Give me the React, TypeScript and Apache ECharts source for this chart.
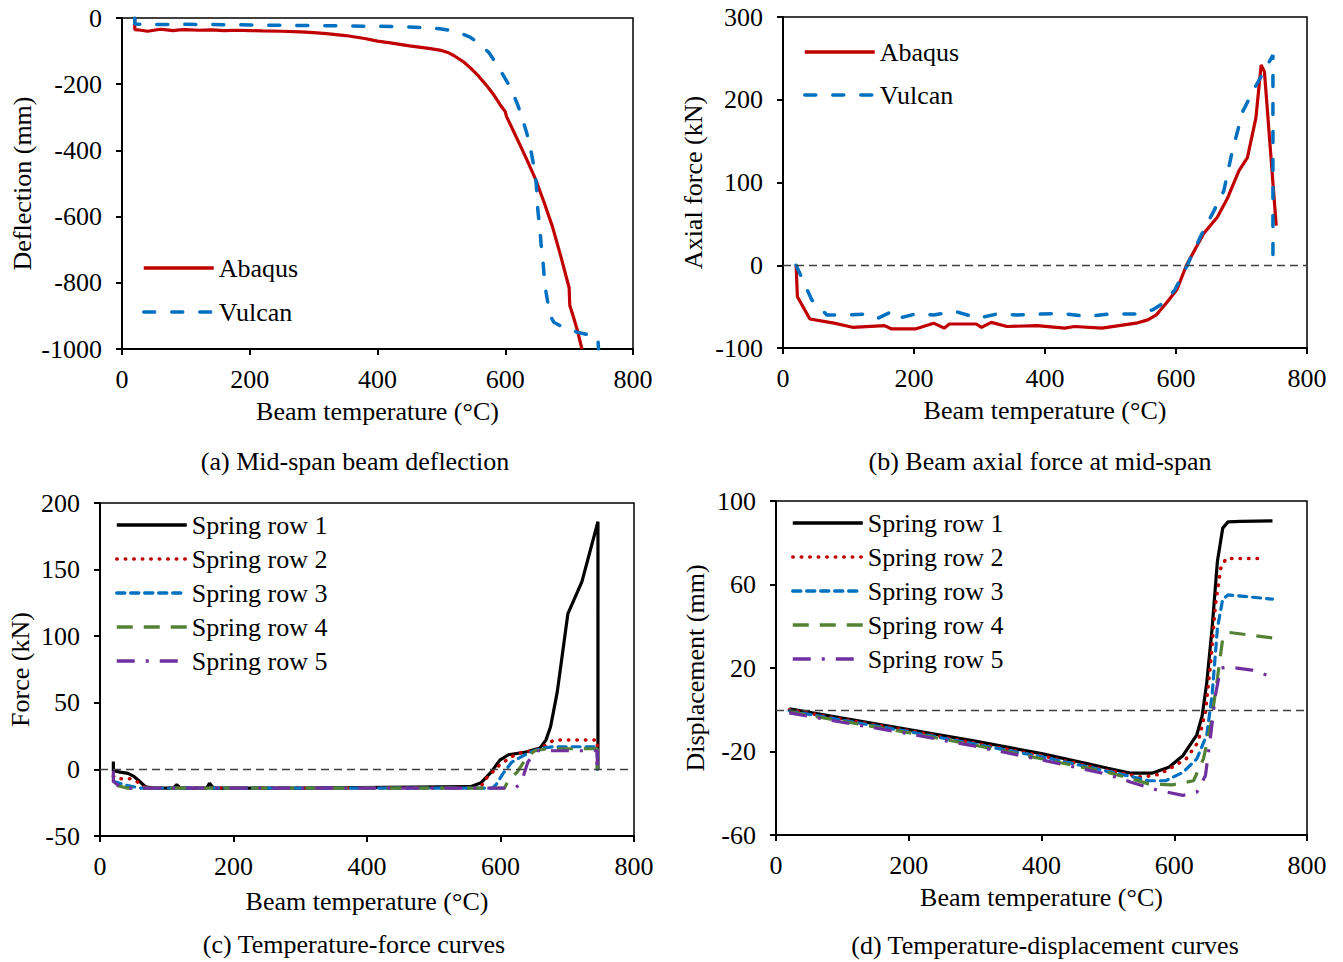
import React, { useEffect, useRef } from "react";
import * as echarts from "echarts";

const FONT = '"Liberation Serif", "Times New Roman", serif';

// Temperature axis (°C)
const tempMin = 0;
const tempMax = 800;
const tempStep = 200;

// (a) Mid-span beam deflection (mm)
const deflAbaqus = [
  [20, 0], [20, -35], [30, -37], [40, -40], [50, -37], [60, -34], [70, -36], [80, -38], [90, -36], [100, -35],
  [120, -37], [140, -36], [160, -38], [180, -37], [200, -38], [220, -39], [250, -40], [280, -42], [300, -44],
  [320, -47], [350, -53], [380, -62], [400, -70], [420, -75], [450, -84], [480, -92], [500, -98], [510, -104],
  [520, -114], [535, -133], [545, -150], [558, -175], [570, -202], [582, -232], [592, -262], [600, -283],
  [602, -298], [610, -330], [622, -379], [635, -433], [648, -490], [661, -558], [674, -631], [687, -720],
  [700, -815], [701, -868], [707, -905], [713, -944], [720, -1000],
];
const deflVulcan = [
  [20, 0], [20, -18], [40, -20], [100, -19], [200, -21], [300, -23], [400, -25], [450, -27], [480, -30],
  [500, -33], [515, -38], [530, -46], [545, -58], [555, -71], [565, -87], [575, -106], [585, -135], [595, -167],
  [605, -200], [612, -227], [620, -265], [627, -305], [634, -350], [640, -399], [645, -450], [648, -490],
  [650, -540], [651, -581], [654, -632], [656, -682], [659, -733], [661, -783], [664, -830], [668, -874],
  [672, -905], [676, -919], [690, -934], [712, -949], [730, -957], [745, -965], [746, -1000],
];

// (b) Beam axial force at mid-span (kN)
const axialAbaqus = [
  [20, 0], [22, -38], [41, -65], [78, -70], [106, -75], [155, -73], [166, -77], [202, -77], [230, -70],
  [246, -76], [254, -71], [295, -71], [303, -75], [318, -69], [342, -74], [388, -73], [430, -76], [445, -74],
  [487, -76], [513, -73], [539, -70], [557, -66], [570, -60], [585, -46], [601, -30], [616, 0], [642, 38],
  [663, 58], [678, 80], [696, 114], [709, 130], [722, 178], [730, 242], [735, 234], [753, 48],
];
const axialVulcan = [
  [20, 0], [44, -42], [67, -60], [98, -60], [129, -59], [145, -64], [166, -56], [176, -64], [202, -59],
  [230, -60], [264, -56], [298, -64], [326, -59], [357, -60], [394, -59], [425, -58], [463, -62], [497, -59],
  [544, -59], [564, -54], [580, -46], [598, -30], [616, -2], [637, 34], [658, 66], [673, 90], [686, 138],
  [702, 186], [720, 214], [748, 254], [748, 6],
];

// (c) Temperature-force curves (kN)
const force1 = [
  [20, 6], [20, -1], [30, -2], [42, -3], [50, -5], [57, -8], [68, -13], [80, -14], [110, -14], [115, -11.5],
  [120, -14], [160, -14], [164, -10.5], [170, -14], [300, -14], [555, -13], [571, -10], [586, -2], [599, 7],
  [612, 11], [638, 13], [659, 16], [668, 22], [675, 32], [685, 58], [701, 117], [722, 141], [746, 186], [746, 0],
];
const force2 = [
  [20, -5], [25, -7], [45, -7], [55, -9], [65, -13], [80, -14], [300, -14], [570, -14], [576, -8], [586, -3],
  [599, 3.5], [612, 8], [625, 12], [643, 13.5], [659, 15.5], [670, 19], [680, 22], [745, 22], [745, 0],
];
const force3 = [
  [20, -9], [40, -12], [60, -14], [300, -14], [588, -14], [594, -11], [604, -3], [617, 5.5], [633, 10],
  [645, 13], [662, 16], [680, 17], [745, 17], [745, 0],
];
const force4 = [
  [25, -12], [40, -14], [300, -14], [606, -14], [612, -8], [625, -2], [638, 8], [651, 14], [670, 15.5],
  [745, 15.5], [745, 0],
];
const force5 = [
  [20, -1], [20, -9], [32, -14], [300, -14], [622, -14], [627, -12], [633, -7], [641, 5.5], [654, 14],
  [745, 14], [745, 0],
];

// (d) Temperature-displacement curves (mm)
const disp1 = [
  [20, 0.5], [100, -4], [200, -9.5], [300, -15], [400, -21], [500, -28], [535, -30.4], [566, -30.4],
  [592, -27.5], [613, -22], [634, -12], [642, -3], [649, 13], [657, 39], [665, 71], [673, 87], [681, 90],
  [700, 90.2], [748, 90.5],
];
const disp2 = [
  [20, 0], [100, -4.5], [200, -10], [300, -16], [400, -22], [500, -29], [551, -32.3], [577, -31],
  [597, -27.5], [618, -23.5], [636, -15.5], [647, -1], [655, 23], [662, 50], [670, 67.7], [678, 72.5],
  [735, 72.5],
];
const disp3 = [
  [20, -0.5], [100, -5], [200, -10.5], [300, -16.5], [400, -22.5], [500, -29.5], [535, -32], [561, -34],
  [587, -34], [613, -30], [634, -23.5], [649, -12], [657, 7], [665, 39], [673, 53], [681, 55], [748, 53],
];
const disp4 = [
  [20, -1], [100, -5.5], [200, -11], [300, -17], [400, -23.5], [500, -30], [535, -33], [561, -35.5],
  [597, -36], [629, -34], [644, -23.5], [655, -7.5], [665, 15], [673, 34], [683, 37], [748, 34.4],
];
const disp5 = [
  [20, -1.5], [100, -6], [200, -11.5], [300, -17.5], [400, -24], [500, -31], [535, -34.7], [577, -38.7],
  [613, -41], [634, -39.5], [647, -31.5], [655, -12], [662, 7], [670, 20], [683, 20.5], [717, 19], [748, 15.7],
];

const RED = "#C00000";
const BLUE = "#0070C0";
const GREEN = "#548235";
const PURPLE = "#7030A0";
const BLACK = "#000000";

const textBase = { fontFamily: FONT, fontSize: 26, color: "#000" };

function xAxis(gridIndex: number, nameGap: number) {
  return {
    type: "value",
    gridIndex,
    min: tempMin,
    max: tempMax,
    interval: tempStep,
    name: "Beam temperature (°C)",
    nameLocation: "middle",
    nameGap,
    nameTextStyle: textBase,
    axisLine: { show: true, onZero: false, lineStyle: { color: "#000", width: 2 } },
    axisTick: { show: true, inside: false, length: 6, lineStyle: { color: "#000", width: 2 } },
    axisLabel: { ...textBase, margin: 17, formatter: (v: number) => String(v) },
    splitLine: { show: false },
  };
}

function yAxis(gridIndex: number, name: string, min: number, max: number, interval: number, nameGap: number) {
  return {
    type: "value",
    gridIndex,
    min,
    max,
    interval,
    name,
    nameLocation: "middle",
    nameRotate: 90,
    nameGap,
    nameTextStyle: textBase,
    axisLine: { show: true, onZero: false, lineStyle: { color: "#000", width: 2 } },
    axisTick: { show: true, inside: false, length: 6, lineStyle: { color: "#000", width: 2 } },
    axisLabel: { ...textBase, margin: 20, formatter: (v: number) => String(v) },
    splitLine: { show: false },
  };
}

function line(name: string, data: number[][], idx: number, color: string, type: any, width = 3.2, cap = "butt") {
  return {
    name,
    type: "line",
    xAxisIndex: idx,
    yAxisIndex: idx,
    data,
    symbol: "none",
    showSymbol: false,
    silent: true,
    lineStyle: { color, width, type, cap },
    itemStyle: { color },
  };
}

const zeroLine = {
  silent: true,
  symbol: ["none", "none"],
  label: { show: false },
  lineStyle: { color: "#404040", width: 1.3, type: [8, 5] },
  data: [{ yAxis: 0 }],
};

function legend(left: number, top: number, names: string[], gap: number) {
  return {
    left,
    top,
    orient: "vertical",
    padding: 0,
    itemWidth: 70,
    itemHeight: 14,
    itemGap: gap,
    data: names,
    selectedMode: false,
    itemStyle: { opacity: 0 },
    lineStyle: { width: 3.5 },
    textStyle: { ...textBase, lineHeight: 26 },
  };
}

const springNames = ["Spring row 1", "Spring row 2", "Spring row 3", "Spring row 4", "Spring row 5"];

export default function App() {
  const ref = useRef<HTMLDivElement>(null);
  useEffect(() => {
    document.body.style.margin = "0";
    const chart = echarts.init(ref.current!, null, { renderer: "svg" });
    const gridStyle = { show: true, borderColor: "#000", borderWidth: 1.5, backgroundColor: "transparent" };
    const option: any = {
      animation: false,
      backgroundColor: "#fff",
      grid: [
        { left: 122, top: 18, width: 511, height: 331, ...gridStyle },
        { left: 783, top: 17, width: 524, height: 331, ...gridStyle },
        { left: 100, top: 503, width: 534, height: 333, ...gridStyle },
        { left: 776, top: 501, width: 531, height: 334, ...gridStyle },
      ],
      xAxis: [xAxis(0, 49), xAxis(1, 49), xAxis(2, 52), xAxis(3, 49)],
      yAxis: [
        yAxis(0, "Deflection (mm)", -1000, 0, 200, 87),
        yAxis(1, "Axial force (kN)", -100, 300, 100, 77),
        yAxis(2, "Force (kN)", -50, 200, 50, 67),
        yAxis(3, "Displacement (mm)", -60, 100, 40, 68),
      ],
      legend: [
        legend(142, 255, ["Abaqus", "Vulcan"], 18),
        legend(803, 39, ["Abaqus", "Vulcan"], 17),
        legend(115, 512, springNames, 8),
        legend(791, 510, springNames, 8),
      ],
      series: [
        line("Abaqus", deflAbaqus, 0, RED, "solid"),
        line("Vulcan", deflVulcan, 0, BLUE, [11, 17], 3.5, "round"),
        { ...line("Abaqus", axialAbaqus, 1, RED, "solid"), markLine: zeroLine },
        line("Vulcan", axialVulcan, 1, BLUE, [11, 17], 3.5, "round"),
        { ...line("Spring row 1", force1, 2, BLACK, "solid"), markLine: zeroLine },
        line("Spring row 2", force2, 2, RED, [0.5, 8], 3.5, "round"),
        line("Spring row 3", force3, 2, BLUE, [8, 6], 3.2, "round"),
        line("Spring row 4", force4, 2, GREEN, [16, 11], 3.2),
        line("Spring row 5", force5, 2, PURPLE, [18, 11, 3, 11], 3.2),
        { ...line("Spring row 1", disp1, 3, BLACK, "solid"), markLine: zeroLine },
        line("Spring row 2", disp2, 3, RED, [0.5, 8], 3.5, "round"),
        line("Spring row 3", disp3, 3, BLUE, [8, 6], 3.2, "round"),
        line("Spring row 4", disp4, 3, GREEN, [16, 11], 3.2),
        line("Spring row 5", disp5, 3, PURPLE, [18, 11, 3, 11], 3.2),
      ],
      graphic: [
        { type: "text", x: 355, y: 461, style: { text: "(a) Mid-span beam deflection", font: `26px ${FONT}`, fill: "#000", align: "center", verticalAlign: "middle" } },
        { type: "text", x: 1040, y: 461, style: { text: "(b) Beam axial force at mid-span", font: `26px ${FONT}`, fill: "#000", align: "center", verticalAlign: "middle" } },
        { type: "text", x: 354, y: 944, style: { text: "(c) Temperature-force curves", font: `26px ${FONT}`, fill: "#000", align: "center", verticalAlign: "middle" } },
        { type: "text", x: 1045, y: 945, style: { text: "(d) Temperature-displacement curves", font: `26px ${FONT}`, fill: "#000", align: "center", verticalAlign: "middle" } },
      ],
    };
    chart.setOption(option);
    return () => chart.dispose();
  }, []);
  return <div ref={ref} style={{ width: 1343, height: 962 }} />;
}
